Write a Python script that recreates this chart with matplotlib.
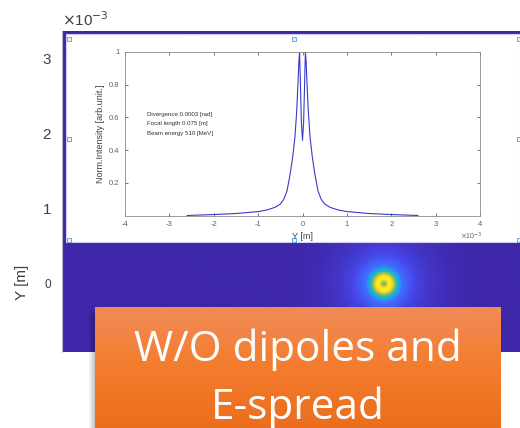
import matplotlib.pyplot as plt
import numpy as np
from matplotlib.colors import LinearSegmentedColormap
from matplotlib.patches import Rectangle

# line profile shown in the inset (Y in units of 1e-3 m)
y_pos = [-2.6, -2.0, -1.5, -1.0, -0.8, -0.62, -0.5, -0.42, -0.35, -0.28,
         -0.22, -0.17, -0.13, -0.1, -0.08, -0.065, -0.045, -0.025, 0.0,
         0.025, 0.045, 0.065, 0.08, 0.1, 0.13, 0.17, 0.22, 0.28, 0.35,
         0.42, 0.5, 0.62, 0.8, 1.0, 1.5, 2.0, 2.6]
intensity = [0.0, 0.006, 0.012, 0.024, 0.034, 0.05, 0.07, 0.1, 0.15, 0.25,
             0.36, 0.48, 0.64, 0.82, 0.95, 1.0, 0.78, 0.57, 0.46,
             0.57, 0.78, 1.0, 0.95, 0.82, 0.64, 0.48, 0.36, 0.25, 0.15,
             0.1, 0.07, 0.05, 0.034, 0.024, 0.012, 0.006, 0.0]

# radial profile of the ring in the screen image (radius in 1e-3 m)
ring_r = [0, 0.02, 0.05, 0.08, 0.11, 0.15, 0.19, 0.25, 0.4, 0.6, 0.9, 1.3]
ring_level = [0.5, 0.6, 0.9, 1.0, 0.9, 0.6, 0.35, 0.2, 0.1, 0.05, 0.02, 0.0]

outer_ticks = [0, 1, 2, 3]
inset_xticks = [-4, -3, -2, -1, 0, 1, 2, 3, 4]
inset_yticks = [0.2, 0.4, 0.6, 0.8, 1.0]
notes = ["Divergence 0.0003 [rad]", "Focal length 0.075 [m]",
         "Beam energy 510 [MeV]"]

parula = LinearSegmentedColormap.from_list("parula", [
    "#3e26a8", "#4747eb", "#3e6fff", "#279deb", "#1ab3d2", "#2bbfa2",
    "#71c765", "#bfbf3c", "#f5be3a", "#f5d82a", "#f9fb15"])

W, H = 520, 428
fig = plt.figure(figsize=(W / 100, H / 100), dpi=100)
plt.rcParams['font.family'] = ['Liberation Sans', 'DejaVu Sans']

# outer image axes
xl, xr = -4.29, 1.81
yb, yt = -0.907, 3.373
ax = fig.add_axes([62 / W, (H - 352) / H, (W - 62) / W, (352 - 31) / H])
gx = np.linspace(xl, xr, 610)
gy = np.linspace(yb, yt, 430)
XX, YY = np.meshgrid(gx, gy)
img = np.interp(np.hypot(XX, YY), ring_r, ring_level)
ax.imshow(img, extent=[xl * 1e-3, xr * 1e-3, yb * 1e-3, yt * 1e-3],
          origin='lower', aspect='auto', cmap=parula, vmin=0, vmax=1,
          interpolation='bilinear')
ax.set_xlim(xl * 1e-3, xr * 1e-3)
ax.set_ylim(yb * 1e-3, yt * 1e-3)
ax.set_xticks([])
ax.set_yticks([t * 1e-3 for t in outer_ticks])
ax.set_yticklabels([str(t) for t in outer_ticks])
ax.tick_params(axis='y', length=0, labelsize=11, labelcolor='#404040', pad=8)
ax.get_yticklabels()[0].set_fontsize(8.5)
for s in ['top', 'right', 'bottom']:
    ax.spines[s].set_visible(False)
ax.spines['left'].set_color('#b8b4dc')
fig.text(62 / W, 1 - 26 / H, r"$\times$10$^{-3}$", fontsize=11,
         color='#404040', ha='left', va='baseline')
fig.text(22 / W, 1 - 282 / H, "Y [m]", rotation=90, fontsize=11,
         color='#404040', ha='center', va='center')

# white screenshot panel with selection handles
panel = fig.add_axes([66 / W, (H - 242) / H, (W - 66) / W, (242 - 34) / H])
panel.set_facecolor('white')
panel.set_xticks([])
panel.set_yticks([])
for s in panel.spines.values():
    s.set_color('#cfcde8')
    s.set_linewidth(0.8)
panel.set_xlim(0, 1)
panel.set_ylim(0, 1)
hx = [0.007, 0.502, 0.998, 0.007, 0.998, 0.007, 0.502, 0.998]
hy = [0.976, 0.976, 0.976, 0.495, 0.495, 0.01, 0.01, 0.01]
panel.scatter(hx, hy, marker='s', s=10, facecolor='#e8f2fb',
              edgecolor='#6aa8dc', linewidth=0.7, clip_on=False, zorder=5)

# inset line plot
ins = fig.add_axes([125 / W, (H - 215.5) / H, (480 - 125) / W, (215.5 - 52) / H])
ins.plot(np.array(y_pos) * 1e-3, intensity, color='#3a3ac8', lw=0.8)
ins.set_xlim(-4e-3, 4e-3)
ins.set_ylim(0, 1)
ins.set_xticks([t * 1e-3 for t in inset_xticks])
ins.set_xticklabels([str(t) for t in inset_xticks])
ins.set_yticks(inset_yticks)
ins.set_yticklabels(["0.2", "0.4", "0.6", "0.8", "1"])
ins.tick_params(direction='in', length=2.5, width=0.6, labelsize=5.5,
                colors='#606060', top=True, right=True, pad=4)
for s in ins.spines.values():
    s.set_color('#8c8c8c')
    s.set_linewidth(0.6)
ins.set_xlabel("Y [m]", fontsize=6.5, color='#404040', labelpad=3)
ins.set_ylabel("Norm.Intensity [arb.unit.]", fontsize=6.5, color='#404040',
               labelpad=3)
ins.text(0.975, -0.13, r"$\times$10$^{-3}$", transform=ins.transAxes,
         fontsize=5, color='#606060', ha='center', va='center')
for i, line in enumerate(notes):
    ins.text(0.062, 0.62 - i * 0.058, line, transform=ins.transAxes,
             fontsize=4.4, color='#303030', ha='left', va='center')

# orange callout box with soft shadow
bx0, bx1, by0 = 95, 501, 307
shadow = fig.add_axes([0, 0, 1, 1], zorder=8)
shadow.set_axis_off()
shadow.set_xlim(0, W)
shadow.set_ylim(H, 0)
for k in range(6):
    shadow.add_patch(Rectangle((bx0 - 6 + k, by0 + 4 + k), bx1 - bx0, H,
                               color='black', alpha=0.04, lw=0))
box = fig.add_axes([bx0 / W, 0, (bx1 - bx0) / W, (H - by0) / H], zorder=10)
grad = np.linspace(0, 1, 200).reshape(-1, 1)
orange = LinearSegmentedColormap.from_list("org", ["#f08c58", "#f47c2c",
                                                   "#ea6e1e"])
box.imshow(grad, aspect='auto', cmap=orange, extent=[0, 1, 0, 1],
           origin='upper')
box.set_axis_off()
box.text(0.5, 0.645, "W/O dipoles and", transform=box.transAxes,
         fontsize=30.5, color='white', ha='center', va='center',
         family=['Open Sans', 'DejaVu Sans'])
box.text(0.5, 0.17, "E-spread", transform=box.transAxes,
         fontsize=30.5, color='white', ha='center', va='center',
         family=['Open Sans', 'DejaVu Sans'])

plt.savefig("out.png", dpi=100)
